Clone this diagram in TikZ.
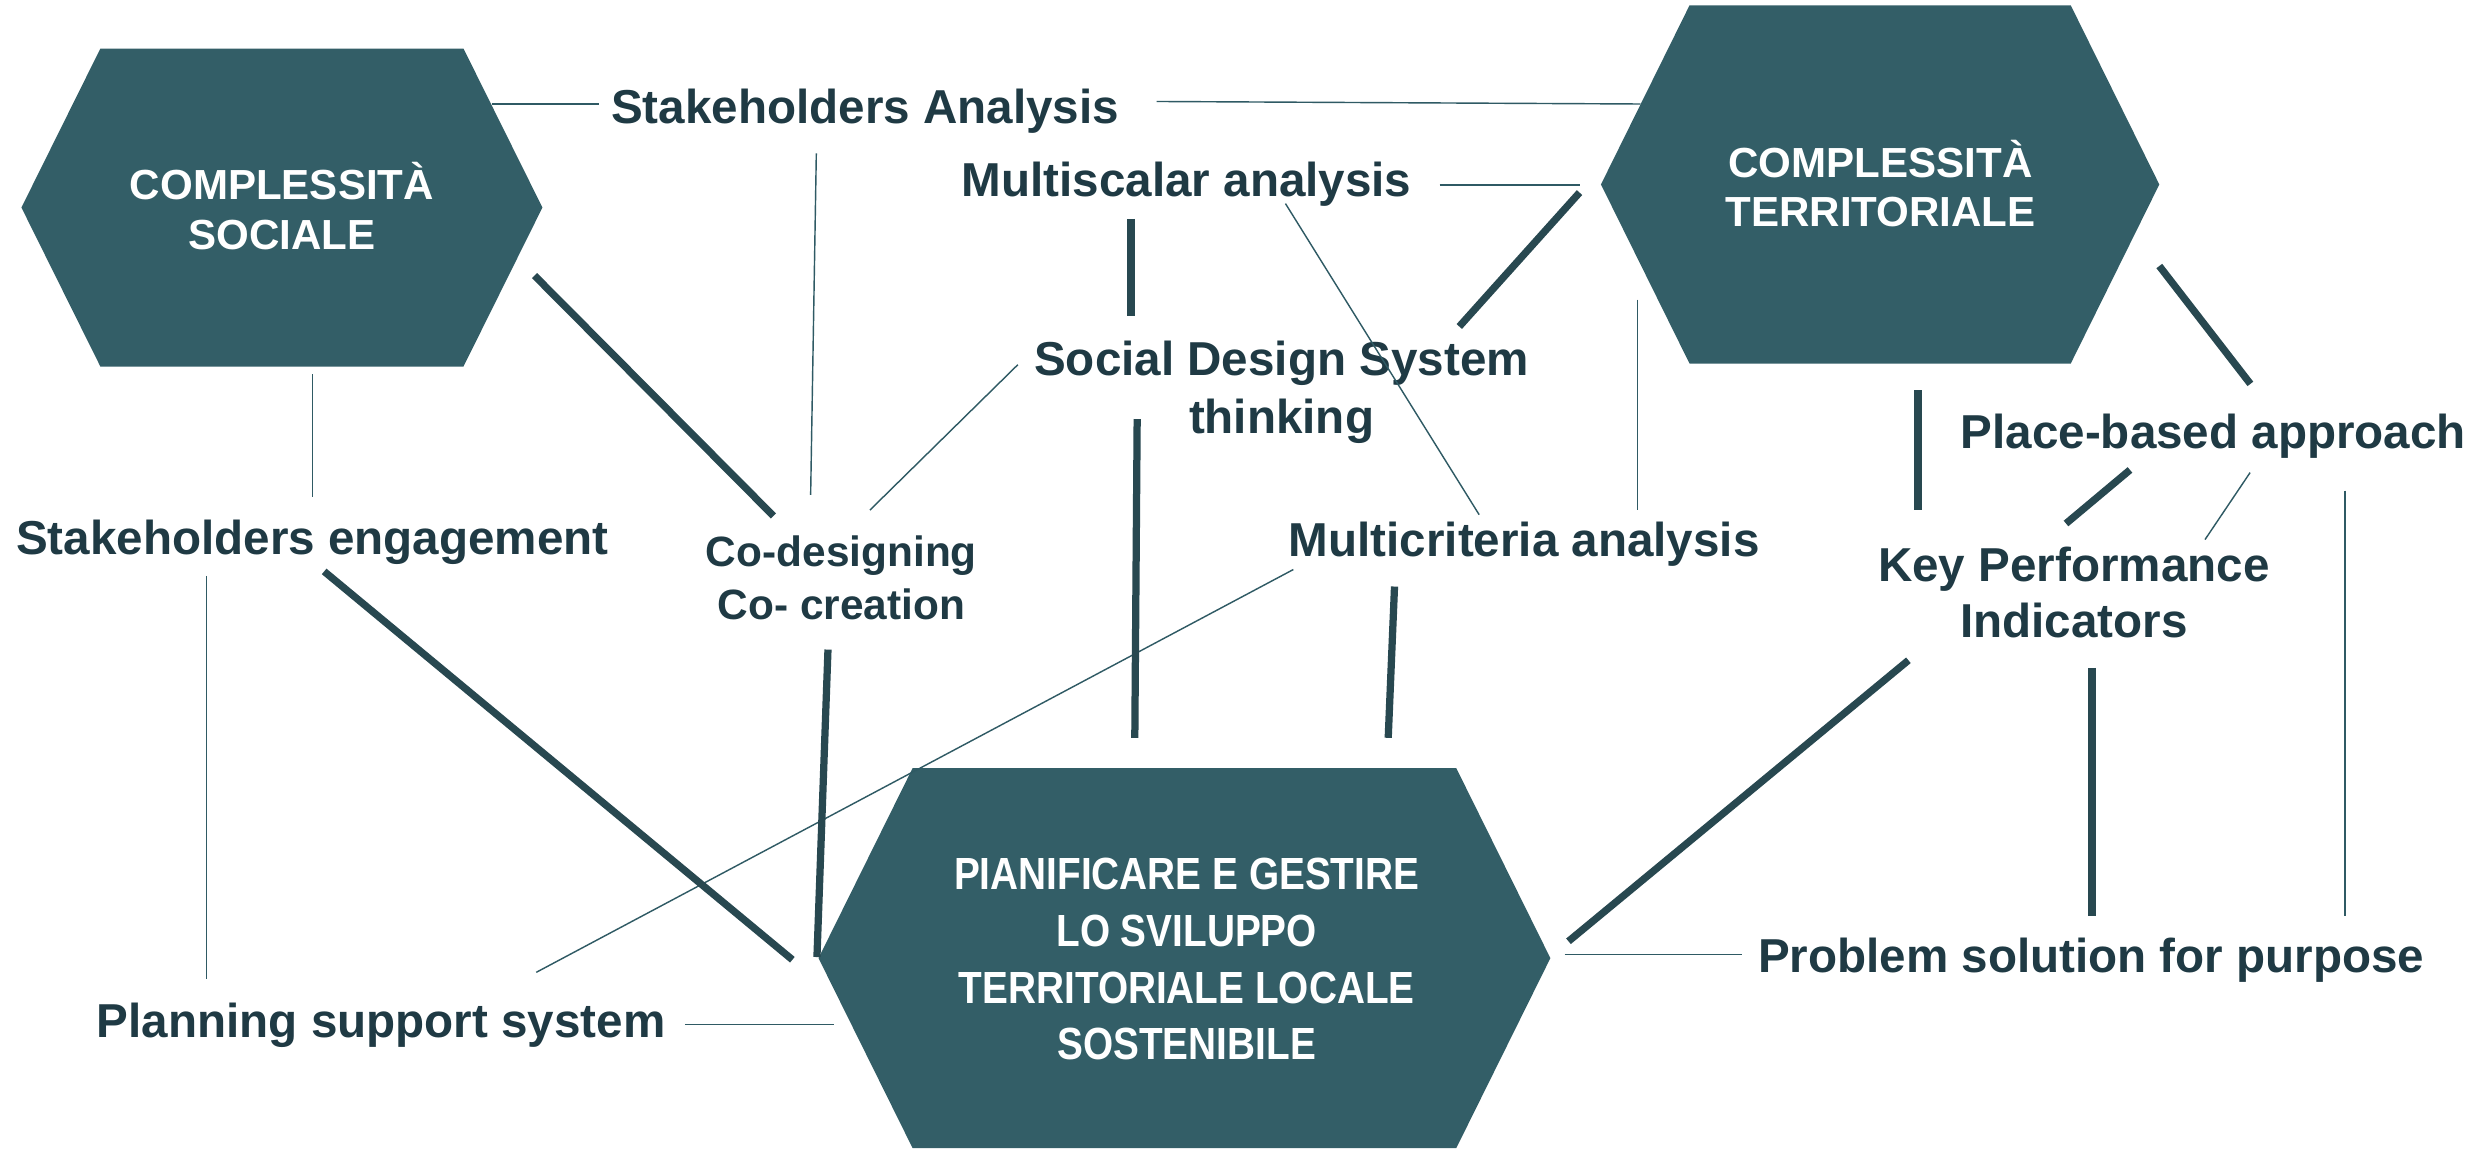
\documentclass[tikz,border=0pt]{standalone}
\usepackage{fontspec}
\setmainfont{Liberation Sans}
\newfontfamily\condfont{Liberation Sans}[FakeStretch=0.86,BoldFeatures={FakeStretch=0.86}]
\usetikzlibrary{calc,backgrounds}
\definecolor{hexcol}{RGB}{51,94,103}
\definecolor{txtcol}{RGB}{31,58,68}
\definecolor{thickcol}{RGB}{40,72,80}
\definecolor{thincol}{RGB}{47,90,100}
\newcommand\sm[1]{\smash{#1}\rule[-0.3em]{0pt}{0.6em}}
\newcommand\hexfill[2]{%
  \fill[hexcol] (#1.west) -- ($(#1.north west)+(#2,0)$) -- ($(#1.north east)+(-#2,0)$)
    -- (#1.east) -- ($(#1.south east)+(-#2,0)$) -- ($(#1.south west)+(#2,0)$) -- cycle;}
\newcommand\conn[4]{%
  \coordinate (#2-a) at (#3); \coordinate (#2-b) at (#4);
  \draw[#1] (#2-a) -- (#2-b);}
\begin{document}
\begin{tikzpicture}[x=0.5pt,y=-0.5pt,
  hexbox/.style={draw=none,inner sep=0pt,outer sep=0pt},
  lbl/.style={inner sep=0pt,text=txtcol,font=\fontsize{15.1}{18}\selectfont\bfseries},
  hextxt/.style={inner sep=0pt,text=white,align=center},
  thinline/.style={draw=thincol,line width=0.45pt},
  thickline/.style={draw=thickcol,line width=2.3pt,line cap=butt}]
\useasboundingbox[fill=white] (0,0) rectangle (1568,731.6);

% hexagons
\node[hexbox,minimum width=165.3pt,minimum height=100.9pt] (h1) at (178.9,131.7) {};
\node[hexbox,minimum width=177.15pt,minimum height=113.65pt] (h2) at (1193.05,117.05) {};
\node[hexbox,minimum width=232.2pt,minimum height=120.55pt] (h3) at (751.6,608) {};
\hexfill{h1}{50.1}
\hexfill{h2}{56.2}
\hexfill{h3}{59.7}

\node[hextxt,font=\fontsize{13.35}{15.75}\selectfont\bfseries] (h1t) at (178.9,142.55)
  {\sm{COMPLESSITÀ}\\\sm{SOCIALE}};
\node[hextxt,font=\fontsize{13.35}{15.45}\selectfont\bfseries] (h2t) at (1193.3,128.35)
  {\sm{COMPLESSITÀ}\\\sm{TERRITORIALE}};
\node[hextxt,font=\condfont\fontsize{14.3}{18}\selectfont\bfseries] (h3t) at (753,618.6)
  {\sm{PIANIFICARE E GESTIRE}\\\sm{LO SVILUPPO}\\\sm{TERRITORIALE LOCALE}\\\sm{SOSTENIBILE}};

% labels
\node[lbl,anchor=base] (sa) at (549,78.2) {Stakeholders Analysis};
\node[lbl,anchor=base] (ma) at (753,124.7) {Multiscalar analysis};
\node[lbl,anchor=base] (se) at (198.2,352.1) {Stakeholders engagement};
\node[lbl,anchor=base] (psys) at (241.9,658.2) {Planning support system};
\node[lbl,anchor=base] (mca) at (967.2,353.3) {Multicriteria analysis};
\node[lbl,anchor=base] (pba) at (1404.5,284.6) {Place-based approach};
\node[lbl,anchor=base] (psp) at (1327,617) {Problem solution for purpose};
\node[lbl,align=center,font=\fontsize{15.1}{18.45}\selectfont\bfseries] (sds) at (813.2,256.6)
  {\sm{Social Design System}\\\sm{thinking}};
\node[lbl,align=center,font=\fontsize{13.45}{16.8}\selectfont\bfseries] (cod) at (533.9,376.2)
  {\sm{Co-designing}\\\sm{Co- creation}};
\node[lbl,align=center,font=\fontsize{15.1}{17.7}\selectfont\bfseries] (kpi) at (1316,386.8)
  {\sm{Key Performance}\\\sm{Indicators}};

% thin connectors
\conn{thinline}{h1-sa}{312,66}{380,66}
\conn{thinline}{sa-h2}{734,64.4}{1041,66}
\conn{thinline}{sa-cod}{518,97.3}{514.4,314}
\conn{thinline}{ma-h2}{913.5,117.3}{1002.3,117.3}
\conn{thinline}{ma-mca}{815.7,129.2}{938.6,326.6}
\conn{thinline}{h2-mca}{1039,190.2}{1039,323.7}
\conn{thinline}{sds-cod}{645.9,231.4}{552,323.7}
\conn{thinline}{h1-se}{198.2,237.5}{198.2,315.2}
\conn{thinline}{se-psys}{131,365.4}{131,621}
\conn{thinline}{psys-h3}{434.6,650}{528.9,650}
\conn{thinline}{mca-psys}{820.7,361.4}{340.3,617}
\conn{thinline}{h3-psp}{992.8,605.7}{1105.2,605.7}
\conn{thinline}{pba-kpi}{1427.8,299.9}{1399.2,342.4}
\conn{thinline}{pba-psp}{1488,311.3}{1488,581}

% thick connectors
\conn{thickline}{h1-cod}{339.2,174.9}{490.8,327.4}
\conn{thickline}{ma-sds}{717.6,138.9}{717.6,200.4}
\conn{thickline}{sds-h3}{721.6,265.9}{720.1,468.2}
\conn{thickline}{h2-sds}{1002.3,122.2}{926,207.2}
\conn{thickline}{h2-pba}{1370.2,168.8}{1428,243.6}
\conn{thickline}{h2-kpi}{1217,247.7}{1217,323.7}
\conn{thickline}{pba-kpiB}{1351.6,298.2}{1311,332.2}
\conn{thickline}{se-h3}{205.7,362.6}{502.8,609}
\conn{thickline}{cod-h3}{525.4,412.2}{518.4,607.3}
\conn{thickline}{mca-h3}{884.9,372.2}{880.9,468.2}
\conn{thickline}{kpi-h3}{1211,419}{995.3,597.3}
\conn{thickline}{kpi-psp}{1327.5,423.8}{1327.5,581}
\end{tikzpicture}
\end{document}
